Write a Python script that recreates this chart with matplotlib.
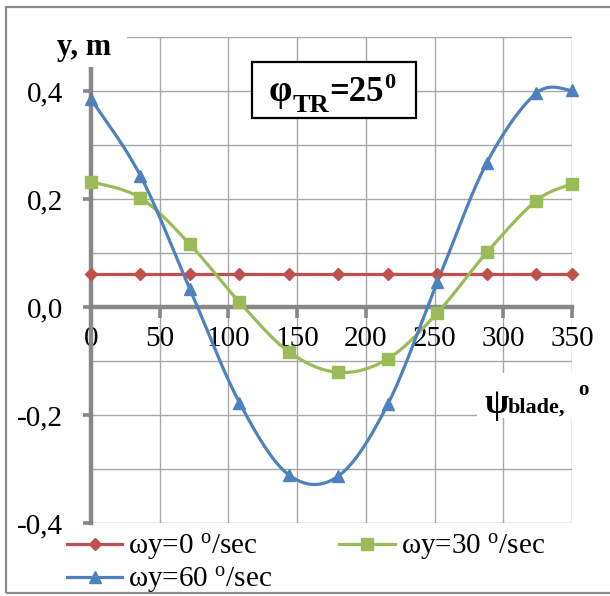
import numpy as np
import matplotlib.pyplot as plt
from matplotlib.lines import Line2D
from matplotlib.patches import Rectangle

plt.rcParams['font.family'] = ['Liberation Serif', 'DejaVu Serif']
plt.rcParams['mathtext.fontset'] = 'custom'
plt.rcParams['mathtext.rm'] = 'Liberation Serif'
plt.rcParams['mathtext.it'] = 'Liberation Serif:italic'
plt.rcParams['mathtext.bf'] = 'Liberation Serif:bold'

# data
psi = [0, 36, 72, 108, 144, 180, 216, 252, 288, 324, 350]
y_w0 = [0.062, 0.062, 0.062, 0.062, 0.062, 0.062, 0.062, 0.062, 0.062, 0.062, 0.062]
y_w30 = [0.232, 0.202, 0.116, 0.009, -0.083, -0.121, -0.096, -0.011, 0.101, 0.197, 0.228]
y_w60 = [0.385, 0.243, 0.033, -0.177, -0.311, -0.313, -0.180, 0.046, 0.267, 0.396, 0.401]
series_labels = ['ωy=0 $^{\\mathrm{o}}$/sec', 'ωy=30 $^{\\mathrm{o}}$/sec', 'ωy=60 $^{\\mathrm{o}}$/sec']
x_ticks = [0, 50, 100, 150, 200, 250, 300, 350]
y_ticks = [-0.4, -0.2, 0.0, 0.2, 0.4]
y_ticklabels = ['-0,4', '-0,2', '0,0', '0,2', '0,4']

colors = ['#C0504D', '#9BBB59', '#4F81BD']
markers = ['D', 's', '^']
msizes = [6, 8, 9]
axis_gray = '#878787'

W, H = 610, 596


def smooth(xs, ys, n=40):
    # excel-like smoothed line (uniform catmull-rom through the points)
    p = np.column_stack([xs, ys]).astype(float)
    p = np.vstack([p[0], p, p[-1]])
    t = np.linspace(0, 1, n)[:, None]
    out = []
    for i in range(1, len(p) - 2):
        p0, p1, p2, p3 = p[i - 1], p[i], p[i + 1], p[i + 2]
        seg = 0.5 * (2 * p1 + (-p0 + p2) * t + (2 * p0 - 5 * p1 + 4 * p2 - p3) * t ** 2
                     + (-p0 + 3 * p1 - 3 * p2 + p3) * t ** 3)
        out.append(seg)
    c = np.vstack(out)
    return c[:, 0], c[:, 1]


def fx(x):
    return x / W


def fy(y):
    return 1 - y / H


fig = plt.figure(figsize=(6.1, 5.96), dpi=100)
renderer = fig.canvas.get_renderer()


def chain(pieces, x_left=None, x_center=None):
    # bold text pieces set one after another: (text, size, baseline in px)
    texts = []
    for s, size, yb in pieces:
        t = fig.text(0, fy(yb), s, fontsize=size, fontweight='bold',
                     ha='left', va='baseline', zorder=6)
        texts.append(t)
    widths = [t.get_window_extent(renderer).width for t in texts]
    x = x_left if x_left is not None else x_center - sum(widths) / 2
    for t, w in zip(texts, widths):
        t.set_x(fx(x))
        x += w
    return texts


ax = fig.add_axes([fx(91), fy(523), fx(572) - fx(91), fy(37) - fy(523)])

handles = []
for ys, c, m, ms, lab in zip([y_w0, y_w30, y_w60], colors, markers, msizes, series_labels):
    sx, sy = smooth(psi, ys)
    ax.plot(sx, sy, color=c, lw=2.3, zorder=3, clip_on=False)
    ax.plot(psi, ys, linestyle='none', marker=m, ms=ms, color=c, zorder=4, clip_on=False)
    handles.append(Line2D([], [], color=c, lw=2.3, marker=m, ms=ms, label=lab))

ax.set_xlim(0, 350)
ax.set_ylim(-0.4, 0.5)

ax.set_xticks(x_ticks)
ax.set_yticks(y_ticks)
ax.set_yticklabels(y_ticklabels)
ax.set_yticks([-0.3, -0.1, 0.1, 0.3, 0.5], minor=True)
ax.grid(True, which='both', color='#a6a6a6', lw=1)
ax.set_axisbelow(True)

for s in ['top', 'right']:
    ax.spines[s].set_visible(False)
ax.spines['bottom'].set_position(('data', 0))
ax.spines['bottom'].set_color(axis_gray)
ax.spines['bottom'].set_linewidth(3.2)
ax.spines['left'].set_color(axis_gray)
ax.spines['left'].set_linewidth(3.2)
ax.spines['bottom'].set_zorder(2.5)
ax.spines['left'].set_zorder(2.5)

ax.tick_params(axis='x', direction='out', length=8, width=2.6, color=axis_gray,
               labelsize=21, pad=6)
ax.tick_params(axis='y', which='major', direction='out', length=6, width=2.6, color=axis_gray,
               labelsize=21, pad=14)
ax.tick_params(axis='y', which='minor', length=0)

# axis titles with white backgrounds hiding the grid
fig.add_artist(Rectangle((fx(30), fy(67)), fx(127) - fx(30), fy(30) - fy(67),
                         transform=fig.transFigure, fc='white', ec='none', zorder=5))
fig.text(fx(57), fy(55), 'y, m', fontsize=22, fontweight='bold', ha='left', va='baseline', zorder=6)

fig.add_artist(Rectangle((fx(477), fy(418)), fx(605) - fx(477), fy(373) - fy(418),
                         transform=fig.transFigure, fc='white', ec='none', zorder=5))
chain([('ψ', 25, 413), ('blade,', 16, 413)], x_left=484)
fig.text(fx(578), fy(395), 'o', fontsize=15, fontweight='bold', ha='left', va='baseline', zorder=6)

# annotation box
fig.add_artist(Rectangle((fx(252), fy(118)), fx(416) - fx(252), fy(62) - fy(118),
                         transform=fig.transFigure, fc='white', ec='black', lw=1.6, zorder=5))
chain([('φ', 27, 101), ('TR', 19, 112), ('=25', 25, 101), ('0', 16, 88)], x_center=332)

# legend: red, green on first row, blue on second
fig.legend([handles[0], handles[2], handles[1]],
           [series_labels[0], series_labels[2], series_labels[1]],
           ncol=2, loc='upper left', bbox_to_anchor=(fx(67), fy(532)), frameon=False,
           fontsize=21, handlelength=1.9, handletextpad=0.2, columnspacing=2.3,
           borderpad=0, borderaxespad=0, labelspacing=0.1)

# chart frame
fig.add_artist(Rectangle((fx(6), fy(593)), fx(640) - fx(6), fy(7) - fy(593),
                         transform=fig.transFigure, fc='none', ec='#8c8c8c', lw=1.6, zorder=7))

fig.savefig('out.png', dpi=100)
